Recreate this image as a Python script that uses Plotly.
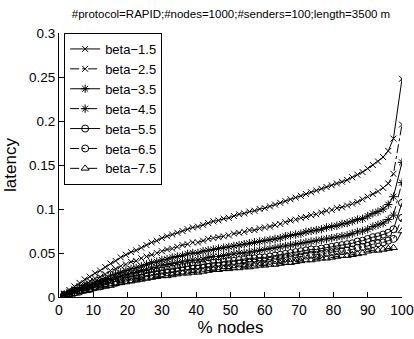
import plotly.graph_objects as go

# % nodes (x positions of the samples)
x_nodes = [1.5, 3, 4.5, 6, 7.5, 9, 10.5, 12, 13.5, 15,
           16.5, 18, 19.5, 21, 22.5, 24, 25.5, 27, 28.5, 30,
           31.5, 33, 34.5, 36, 37.5, 39, 40.5, 42, 43.5, 45,
           46.5, 48, 49.5, 51, 52.5, 54, 55.5, 57, 58.5, 60,
           61.5, 63, 64.5, 66, 67.5, 69, 70.5, 72, 73.5, 75,
           76.5, 78, 79.5, 81, 82.5, 84, 85.5, 87, 88.5, 90,
           91.5, 93, 94.5, 96, 97.5, 100]

beta_1_5 = [0.004, 0.008, 0.012, 0.016, 0.020, 0.023, 0.027, 0.030, 0.034, 0.038,
            0.041, 0.045, 0.048, 0.051, 0.053, 0.056, 0.059, 0.062, 0.064, 0.067,
            0.069, 0.071, 0.073, 0.075, 0.077, 0.079, 0.080, 0.082, 0.084, 0.086,
            0.087, 0.089, 0.090, 0.092, 0.094, 0.095, 0.097, 0.098, 0.100, 0.101,
            0.103, 0.105, 0.107, 0.109, 0.111, 0.113, 0.115, 0.117, 0.119, 0.121,
            0.123, 0.125, 0.127, 0.129, 0.131, 0.133, 0.136, 0.139, 0.142, 0.146,
            0.150, 0.154, 0.159, 0.166, 0.180, 0.248]

beta_2_5 = [0.003, 0.006, 0.009, 0.012, 0.015, 0.018, 0.021, 0.023, 0.026, 0.030,
            0.032, 0.035, 0.037, 0.040, 0.041, 0.044, 0.046, 0.048, 0.050, 0.052,
            0.054, 0.055, 0.057, 0.059, 0.060, 0.062, 0.062, 0.064, 0.066, 0.067,
            0.068, 0.069, 0.070, 0.072, 0.073, 0.074, 0.076, 0.076, 0.078, 0.079,
            0.080, 0.082, 0.083, 0.085, 0.087, 0.088, 0.090, 0.091, 0.093, 0.094,
            0.096, 0.098, 0.099, 0.101, 0.102, 0.104, 0.106, 0.108, 0.111, 0.114,
            0.117, 0.120, 0.124, 0.129, 0.140, 0.196]

beta_3_5 = [0.003, 0.005, 0.008, 0.010, 0.013, 0.014, 0.017, 0.019, 0.021, 0.024,
            0.026, 0.028, 0.030, 0.032, 0.033, 0.035, 0.037, 0.039, 0.040, 0.042,
            0.043, 0.045, 0.046, 0.047, 0.049, 0.050, 0.050, 0.052, 0.053, 0.054,
            0.055, 0.056, 0.057, 0.058, 0.059, 0.060, 0.061, 0.062, 0.063, 0.064,
            0.065, 0.066, 0.067, 0.069, 0.070, 0.071, 0.072, 0.074, 0.075, 0.076,
            0.077, 0.079, 0.080, 0.081, 0.083, 0.084, 0.086, 0.088, 0.089, 0.092,
            0.095, 0.097, 0.100, 0.105, 0.114, 0.153]

beta_4_5 = [0.002, 0.004, 0.006, 0.008, 0.011, 0.012, 0.014, 0.016, 0.018, 0.020,
            0.022, 0.024, 0.025, 0.027, 0.028, 0.030, 0.031, 0.033, 0.034, 0.036,
            0.037, 0.038, 0.039, 0.040, 0.041, 0.042, 0.042, 0.043, 0.045, 0.046,
            0.046, 0.047, 0.048, 0.049, 0.050, 0.050, 0.051, 0.052, 0.053, 0.054,
            0.055, 0.056, 0.057, 0.058, 0.059, 0.060, 0.061, 0.062, 0.063, 0.064,
            0.065, 0.066, 0.067, 0.068, 0.069, 0.070, 0.072, 0.074, 0.075, 0.077,
            0.080, 0.082, 0.084, 0.088, 0.093, 0.130]

beta_5_5 = [0.002, 0.004, 0.005, 0.007, 0.009, 0.010, 0.012, 0.014, 0.015, 0.017,
            0.018, 0.020, 0.022, 0.023, 0.024, 0.025, 0.027, 0.028, 0.029, 0.030,
            0.031, 0.032, 0.033, 0.034, 0.035, 0.036, 0.036, 0.037, 0.038, 0.039,
            0.039, 0.040, 0.041, 0.041, 0.042, 0.043, 0.044, 0.044, 0.045, 0.045,
            0.046, 0.047, 0.048, 0.049, 0.050, 0.051, 0.052, 0.053, 0.054, 0.054,
            0.055, 0.056, 0.057, 0.058, 0.059, 0.060, 0.061, 0.063, 0.064, 0.066,
            0.068, 0.069, 0.071, 0.073, 0.077, 0.107]

beta_6_5 = [0.002, 0.003, 0.005, 0.006, 0.008, 0.009, 0.011, 0.012, 0.014, 0.015,
            0.016, 0.018, 0.019, 0.020, 0.021, 0.022, 0.024, 0.025, 0.026, 0.027,
            0.028, 0.028, 0.029, 0.030, 0.031, 0.032, 0.032, 0.033, 0.034, 0.034,
            0.035, 0.036, 0.036, 0.037, 0.038, 0.038, 0.039, 0.039, 0.040, 0.040,
            0.041, 0.042, 0.043, 0.044, 0.044, 0.045, 0.046, 0.047, 0.048, 0.048,
            0.049, 0.050, 0.051, 0.052, 0.052, 0.053, 0.054, 0.056, 0.057, 0.058,
            0.060, 0.061, 0.062, 0.064, 0.066, 0.090]

beta_7_5 = [0.002, 0.003, 0.004, 0.006, 0.007, 0.008, 0.010, 0.011, 0.012, 0.013,
            0.015, 0.016, 0.017, 0.018, 0.019, 0.020, 0.021, 0.022, 0.023, 0.024,
            0.024, 0.025, 0.026, 0.027, 0.027, 0.028, 0.028, 0.029, 0.030, 0.031,
            0.031, 0.032, 0.032, 0.033, 0.033, 0.034, 0.034, 0.035, 0.036, 0.036,
            0.037, 0.037, 0.038, 0.039, 0.039, 0.040, 0.041, 0.042, 0.042, 0.043,
            0.044, 0.044, 0.045, 0.046, 0.047, 0.047, 0.048, 0.049, 0.050, 0.052,
            0.053, 0.053, 0.054, 0.055, 0.056, 0.075]

series_names = ["beta−1.5", "beta−2.5", "beta−3.5", "beta−4.5",
                "beta−5.5", "beta−6.5", "beta−7.5"]
series_values = [beta_1_5, beta_2_5, beta_3_5, beta_4_5, beta_5_5, beta_6_5, beta_7_5]

x_ticks = [0, 10, 20, 30, 40, 50, 60, 70, 80, 90, 100]
y_ticks = [0, 0.05, 0.1, 0.15, 0.2, 0.25, 0.3]
y_tick_labels = ["0", "0.05", "0.1", "0.15", "0.2", "0.25", "0.3"]

title_text = "#protocol=RAPID;#nodes=1000;#senders=100;length=3500 m"

styles = [
    dict(dash="solid", symbol="x-thin-open", size=6),
    dict(dash="dashdot", symbol="x-thin-open", size=6),
    dict(dash="solid", symbol="asterisk-open", size=7),
    dict(dash="dashdot", symbol="asterisk-open", size=7),
    dict(dash="solid", symbol="circle-open", size=7),
    dict(dash="dashdot", symbol="circle-open", size=7),
    dict(dash="dash", symbol="triangle-up-open", size=7),
]

fig = go.Figure()
for name, vals, st in zip(series_names, series_values, styles):
    fig.add_trace(go.Scatter(
        x=x_nodes, y=vals, name=name, mode="lines+markers",
        line=dict(color="black", width=1, dash=st["dash"]),
        marker=dict(symbol=st["symbol"], size=st["size"], color="black",
                    line=dict(color="black", width=1)),
    ))

FONT = "Liberation Sans, Arial, sans-serif"
fig.update_layout(
    width=414, height=339,
    margin=dict(l=59, r=12, t=33, b=42, autoexpand=False),
    paper_bgcolor="white", plot_bgcolor="white",
    font=dict(family=FONT, color="black", size=13),
    title=dict(text=title_text, font=dict(size=11.5, family=FONT, color="black"),
               x=231 / 414, xanchor="center", xref="container",
               y=1 - 14 / 339, yanchor="middle", yref="container"),
    showlegend=True,
    legend=dict(x=0.015, y=1.0, xanchor="left", yanchor="top",
                bgcolor="white", bordercolor="black", borderwidth=1,
                font=dict(size=13, family=FONT, color="black"),
                itemwidth=30, tracegroupgap=0),
    xaxis=dict(range=[0, 100], tickvals=x_ticks, ticks="inside", ticklen=5,
               tickcolor="black", showline=True, linecolor="black", linewidth=1,
               showgrid=False, zeroline=False, mirror=False, automargin=False,
               tickfont=dict(size=14),
               title=dict(text="% nodes", font=dict(size=17), standoff=0)),
    yaxis=dict(range=[0, 0.3], tickvals=y_ticks, ticktext=y_tick_labels,
               ticks="inside", ticklen=5, tickcolor="black", showline=True,
               linecolor="black", linewidth=1, showgrid=False, zeroline=False,
               mirror=False, automargin=False, tickfont=dict(size=13.5),
               title=dict(text="latency", font=dict(size=17), standoff=8)),
)

fig.write_html("out.html")
